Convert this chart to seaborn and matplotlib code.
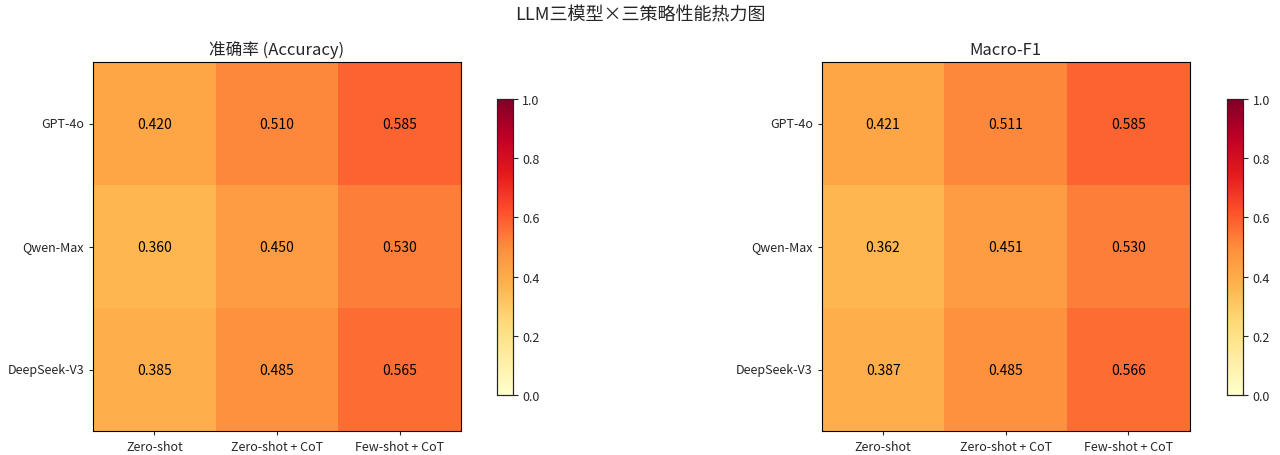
import matplotlib
matplotlib.use("Agg")
import matplotlib.pyplot as plt
import numpy as np
import seaborn as sns

models = ["GPT-4o", "Qwen-Max", "DeepSeek-V3"]
strategies = ["Zero-shot", "Zero-shot + CoT", "Few-shot + CoT"]
accuracy = [[0.420, 0.510, 0.585],
            [0.360, 0.450, 0.530],
            [0.385, 0.485, 0.565]]
macro_f1 = [[0.421, 0.511, 0.585],
            [0.362, 0.451, 0.530],
            [0.387, 0.485, 0.566]]

sns.set_style("white")
plt.rcParams["font.family"] = ["Noto Sans CJK SC", "DejaVu Sans"]
plt.rcParams["axes.unicode_minus"] = False

fig = plt.figure(figsize=(12.8, 4.56), dpi=100)
panels = [
    ("准确率 (Accuracy)", accuracy, [0.0727, 0.0526, 0.2875, 0.809], [0.388, 0.1316, 0.0125, 0.649]),
    ("Macro-F1", macro_f1, [0.642, 0.0526, 0.2875, 0.809], [0.9586, 0.1316, 0.0125, 0.649]),
]
for title, vals, axpos, cbpos in panels:
    ax = fig.add_axes(axpos)
    cax = fig.add_axes(cbpos)
    sns.heatmap(np.array(vals), ax=ax, cbar_ax=cax, cmap="YlOrRd", vmin=0, vmax=1,
                annot=True, fmt=".3f", annot_kws={"fontsize": 10, "color": "black"},
                xticklabels=strategies, yticklabels=models)
    ax.set_title(title, fontsize=12)
    ax.tick_params(axis="both", labelsize=9, length=3, left=True, bottom=True)
    ax.set_yticklabels(models, rotation=0)
    for s in ax.spines.values():
        s.set_visible(True)
        s.set_color("black")
        s.set_linewidth(0.8)
    cax.tick_params(labelsize=9)
    cax.set_yticks([0, 0.2, 0.4, 0.6, 0.8, 1.0])
    for s in cax.spines.values():
        s.set_visible(True)
        s.set_linewidth(0.8)

fig.suptitle("LLM三模型×三策略性能热力图", fontsize=13, y=0.985)
fig.savefig("out.png", dpi=100)
